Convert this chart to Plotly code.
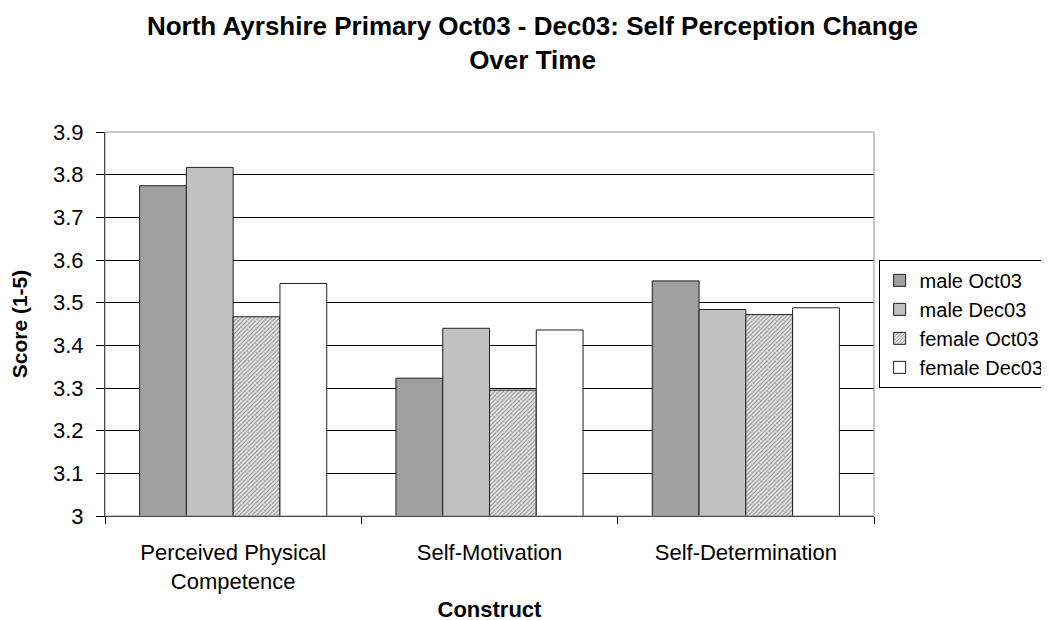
import plotly.graph_objects as go

categories = ["Perceived Physical<br>Competence", "Self-Motivation", "Self-Determination"]
series_names = ["male Oct03", "male Dec03", "female Oct03", "female Dec03"]
male_oct03 = [3.774, 3.323, 3.551]
male_dec03 = [3.817, 3.440, 3.484]
female_oct03 = [3.467, 3.295, 3.472]
female_dec03 = [3.545, 3.436, 3.488]
y_ticks = [3, 3.1, 3.2, 3.3, 3.4, 3.5, 3.6, 3.7, 3.8, 3.9]

FONT = "Liberation Sans, Arial, sans-serif"

# bar fills: stipple, flat grey, diagonal hatch, white
styles = [
    dict(color="#A8A8A8", pattern=dict(shape=".", fgcolor="#5A5A5A", bgcolor="#B4B4B4", size=2, solidity=0.5)),
    dict(color="#C0C0C0"),
    dict(color="#D8D8D8", pattern=dict(shape="/", fgcolor="#383838", bgcolor="#E4E4E4", size=3, solidity=0.35)),
    dict(color="#FFFFFF"),
]

fig = go.Figure()
for name, vals, st in zip(series_names, [male_oct03, male_dec03, female_oct03, female_dec03], styles):
    fig.add_trace(go.Bar(
        x=categories, y=vals, name=name,
        marker=dict(line=dict(color="#202020", width=1), **st),
    ))

# grey frame round the plot area
fig.add_shape(type="rect", xref="paper", yref="paper", x0=0, y0=0, x1=1, y1=1,
              line=dict(color="#909090", width=1), layer="above")

fig.update_layout(
    width=1049, height=620,
    paper_bgcolor="white", plot_bgcolor="white",
    font=dict(family=FONT, size=22, color="#000000"),
    title=dict(
        text="<b>North Ayrshire Primary Oct03 - Dec03: Self Perception Change<br>Over Time</b>",
        x=0.5, xref="container", xanchor="center", y=0.956, yref="container", yanchor="middle",
        font=dict(size=26),
    ),
    barmode="group", bargap=0.27, bargroupgap=0,
    margin=dict(l=97, r=183, t=124, b=112, autoexpand=False),
    showlegend=True,
    legend=dict(
        x=1.006, xanchor="left", y=0.667, yanchor="top",
        bordercolor="#000000", borderwidth=1,
        font=dict(size=20), tracegroupgap=0, itemwidth=30,
    ),
    xaxis=dict(
        title=dict(text="<b>Construct</b>", font=dict(size=22), standoff=8),
        showline=True, linecolor="#000000", linewidth=1, automargin=False,
        ticks="outside", tickson="boundaries", ticklen=7, tickcolor="#000000",
        tickfont=dict(size=22), ticklabelstandoff=17,
    ),
    yaxis=dict(
        title=dict(text="<b>Score (1-5)</b>", font=dict(size=21), standoff=20),
        range=[3, 3.9], tickvals=y_ticks, ticktext=[str(t) for t in y_ticks],
        showgrid=True, gridcolor="#000000", gridwidth=1, automargin=False,
        showline=True, linecolor="#000000", linewidth=1,
        ticks="outside", ticklen=8, tickcolor="#000000",
        tickfont=dict(size=22), ticklabelstandoff=8, zeroline=False,
    ),
)

fig.write_html("out.html")
